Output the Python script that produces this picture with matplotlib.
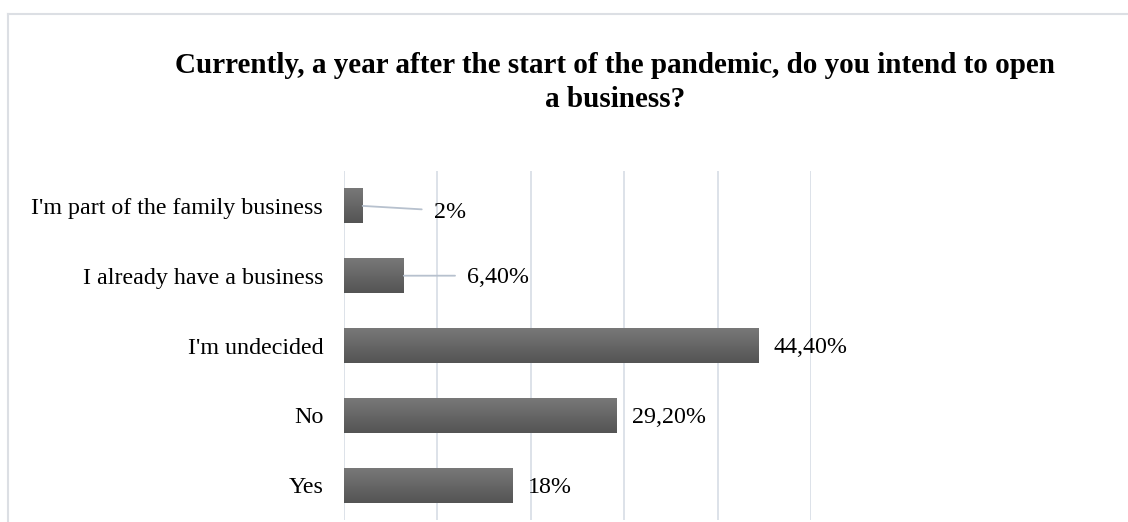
import numpy as np
import matplotlib
matplotlib.use("Agg")
import matplotlib.pyplot as plt
from matplotlib.lines import Line2D

categories = ["Yes", "No", "I'm undecided", "I already have a business",
              "I'm part of the family business"]
values = [18.0, 29.2, 44.4, 6.4, 2.0]
labels = ["18%", "29,20%", "44,40%", "6,40%", "2%"]
title = "Currently, a year after the start of the pandemic, do you intend to open\na business?"

plt.rcParams['font.family'] = ['Liberation Serif', 'DejaVu Serif']

W, H = 1128, 522
fig = plt.figure(figsize=(W / 100, H / 100), dpi=100)
ax = fig.add_axes([344 / W, 1 - 520 / H, (811 - 344) / W, (520 - 171) / H])

bar_h = 0.5
y = np.arange(len(categories))
bars = ax.barh(y, values, height=bar_h, color='#636363', zorder=2)

# vertical gradient on each bar: row 0 is the bottom (dark), last row the top (light)
grad = np.linspace(0, 1, 64).reshape(-1, 1)
cmap = matplotlib.colors.LinearSegmentedColormap.from_list('g', ['#545454', '#787878'])
for b in bars:
    x0, y0 = b.get_x(), b.get_y()
    im = ax.imshow(grad, extent=(x0, x0 + b.get_width(), y0, y0 + b.get_height()),
                   cmap=cmap, aspect='auto', zorder=3, origin='lower')
    im.set_clip_path(b)

ax.set_xlim(0, 50)
ax.set_ylim(-0.5, len(categories) - 0.5)
ax.set_xticks(np.arange(0, 51, 10))
ax.set_xticklabels([])
ax.tick_params(axis='x', length=0)
ax.grid(axis='x', color='#DADFE7', linewidth=1.3, zorder=0)
ax.set_axisbelow(True)
for s in ax.spines.values():
    s.set_visible(False)

ax.set_yticks(y)
ax.set_yticklabels(categories, fontsize=17.3)
ax.tick_params(axis='y', length=0, pad=15)

# data labels, the two short bars get leader lines
leader = {3: (45.4, -1.5), 4: (51, -4.5)}
for i, (v, lab) in enumerate(zip(values, labels)):
    if i in leader:
        dx, dy = leader[i]
        ax.annotate(lab, xy=(v, i), xytext=(dx, dy), textcoords='offset points',
                    ha='left', va='center', fontsize=17.3,
                    arrowprops=dict(arrowstyle='-', color='#B7C1CE', lw=1.3,
                                    shrinkA=6.5, shrinkB=0, relpos=(0, 0.6)))
    else:
        ax.annotate(lab, xy=(v, i), xytext=(11, -1.5), textcoords='offset points',
                    ha='left', va='center', fontsize=17.3)

fig.text(615 / W, 1 - 82.5 / H, title, ha='center', va='center', fontsize=21,
         fontweight='bold', linespacing=1.35, multialignment='center')

# chart area border (cropped at right and bottom)
bx, by = 8 / W, 1 - 14 / H
fig.add_artist(Line2D([bx, 1.0], [by, by], color='#DCDFE4', lw=1.5, transform=fig.transFigure))
fig.add_artist(Line2D([bx, bx], [0, by], color='#DCDFE4', lw=1.5, transform=fig.transFigure))

fig.savefig("out.png", dpi=100)
